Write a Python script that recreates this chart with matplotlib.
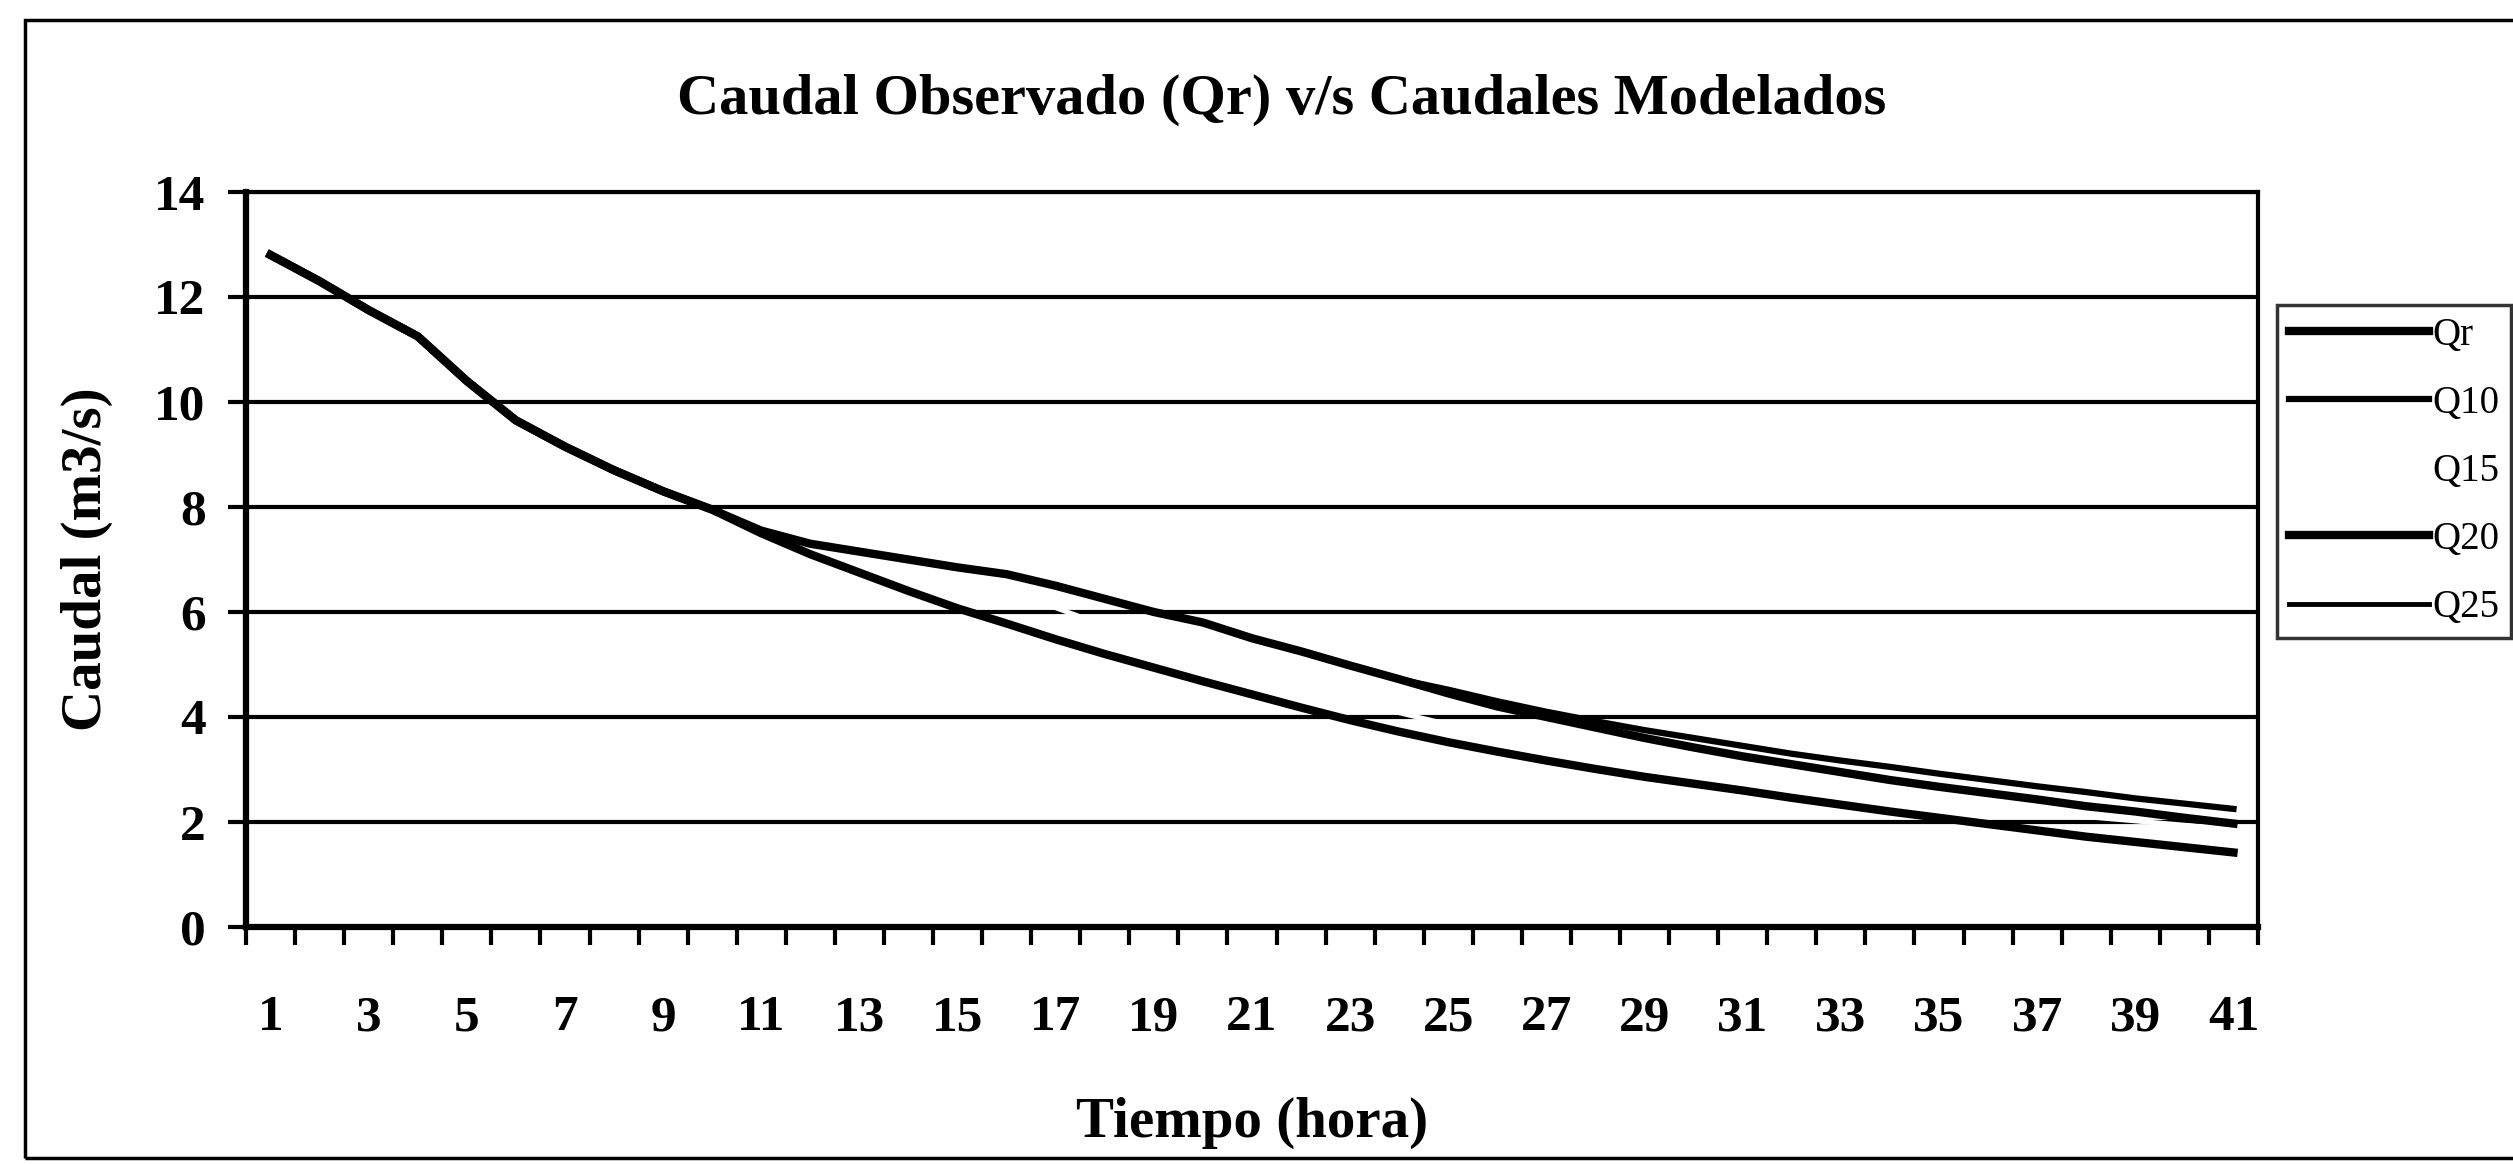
import matplotlib
matplotlib.use("Agg")
import matplotlib.pyplot as plt
from matplotlib.patches import Rectangle

# --- datos ---
horas = list(range(1, 42))

qr = [12.8, 12.3, 11.75, 11.25, 10.4, 9.65, 9.15, 8.7, 8.3, 7.95,
      7.5, 7.1, 6.75, 6.4, 6.07, 5.78, 5.48, 5.2, 4.94, 4.68,
      4.43, 4.18, 3.94, 3.72, 3.52, 3.34, 3.17, 3.01, 2.86, 2.73,
      2.6, 2.46, 2.33, 2.2, 2.08, 1.96, 1.84, 1.72, 1.62, 1.52, 1.42]

q10 = [12.8, 12.3, 11.75, 11.25, 10.4, 9.65, 9.15, 8.7, 8.3, 7.95,
       7.55, 7.3, 7.15, 7.0, 6.85, 6.72, 6.5, 6.25, 6.0, 5.8,
       5.5, 5.25, 4.98, 4.72, 4.52, 4.3, 4.1, 3.92, 3.75, 3.6,
       3.45, 3.3, 3.17, 3.05, 2.92, 2.8, 2.68, 2.57, 2.45, 2.35, 2.25]

horas_q15 = list(range(15, 42))
q15 = [6.85, 6.45, 6.08, 5.74, 5.42, 5.12, 4.84, 4.57, 4.32, 4.08,
       3.86, 3.66, 3.47, 3.3, 3.14, 2.99, 2.85, 2.72, 2.6, 2.49,
       2.38, 2.28, 2.19, 2.1, 2.02, 1.94, 1.87]

q20 = [12.8, 12.3, 11.75, 11.25, 10.4, 9.65, 9.15, 8.7, 8.3, 7.95,
       7.55, 7.3, 7.15, 7.0, 6.85, 6.72, 6.5, 6.25, 6.0, 5.8,
       5.5, 5.25, 4.98, 4.72, 4.45, 4.2, 4.0, 3.8, 3.6, 3.42,
       3.25, 3.1, 2.95, 2.8, 2.67, 2.55, 2.43, 2.3, 2.2, 2.08, 1.97]

horas_q25 = list(range(25, 42))
q25 = [4.45, 4.2, 3.99, 3.79, 3.6, 3.42, 3.25, 3.1, 2.95, 2.8,
       2.67, 2.55, 2.43, 2.31, 2.2, 2.09, 1.98]

y_ticks = [0, 2, 4, 6, 8, 10, 12, 14]
x_etiquetas = list(range(1, 42, 2))

titulo = "Caudal Observado (Qr) v/s Caudales Modelados"
etiqueta_x = "Tiempo (hora)"
etiqueta_y = "Caudal (m3/s)"

# --- figura ---
plt.rcParams['font.family'] = ['Liberation Serif', 'DejaVu Serif']
W, H = 2513, 1164
fig = plt.figure(figsize=(W / 100, H / 100), dpi=100)
ax = fig.add_axes([246 / W, 1 - 927 / H, (2258 - 246) / W, (927 - 192) / H])

# marco exterior del grafico
fig.patches.append(Rectangle((25 / W, 1 - 1158 / H), 1.2, (1158 - 20) / H,
                             transform=fig.transFigure, fill=False,
                             edgecolor='black', lw=2.5))

ax.plot(horas, q20, color='black', lw=6, label='Q20', zorder=4)
ax.plot(horas, q10, color='black', lw=4.5, label='Q10', zorder=5)
ax.plot(horas_q15, q15, color='white', lw=3.5, label='Q15', zorder=3)
ax.plot(horas_q25, q25, color='black', lw=3.5, label='Q25', zorder=4)
ax.plot(horas, qr, color='black', lw=6, label='Qr', zorder=6)

ax.set_xlim(0.5, 41.5)
ax.set_ylim(0, 14)

ax.set_yticks(y_ticks)
ax.set_yticklabels([str(v) for v in y_ticks], fontsize=37, fontweight='bold')
ax.yaxis.grid(True, color='black', lw=3, zorder=1)
ax.set_axisbelow(True)

# marcas entre categorias, etiquetas en las impares
ax.set_xticks([i + 0.5 for i in range(0, 42)])
ax.set_xticklabels([])
ax.set_xticks(x_etiquetas, minor=True)
ax.set_xticklabels([str(v) for v in x_etiquetas], minor=True,
                   fontsize=37, fontweight='bold')
ax.tick_params(axis='x', which='major', length=13, width=3, direction='out')
ax.tick_params(axis='x', which='minor', length=0, pad=49)
ax.tick_params(axis='y', which='major', length=13, width=3, pad=16)

for lado in ['left', 'bottom']:
    ax.spines[lado].set_linewidth(4.5)
for lado in ['top', 'right']:
    ax.spines[lado].set_linewidth(3)

ax.set_xlabel(etiqueta_x, fontsize=41, fontweight='bold', labelpad=40)
ax.set_ylabel(etiqueta_y, fontsize=41, fontweight='bold', labelpad=30)
fig.text(1282 / W, 1 - 100 / H, titulo, ha='center', va='center',
         fontsize=42, fontweight='bold')

# leyenda en el orden original
handles, labels = ax.get_legend_handles_labels()
orden = ['Qr', 'Q10', 'Q15', 'Q20', 'Q25']
h_ord = [handles[labels.index(n)] for n in orden]
leg = fig.legend(h_ord, orden, loc='upper left',
                 bbox_to_anchor=(2277 / W, 1 - 305 / H),
                 bbox_transform=fig.transFigure,
                 prop={'family': 'Liberation Serif', 'size': 28},
                 handlelength=3.6, handletextpad=0.1, labelspacing=0.8,
                 borderpad=0.3, borderaxespad=0, frameon=True, fancybox=False)
leg.get_frame().set_edgecolor('black')
leg.get_frame().set_linewidth(2.5)

fig.savefig('out.png', dpi=100)
